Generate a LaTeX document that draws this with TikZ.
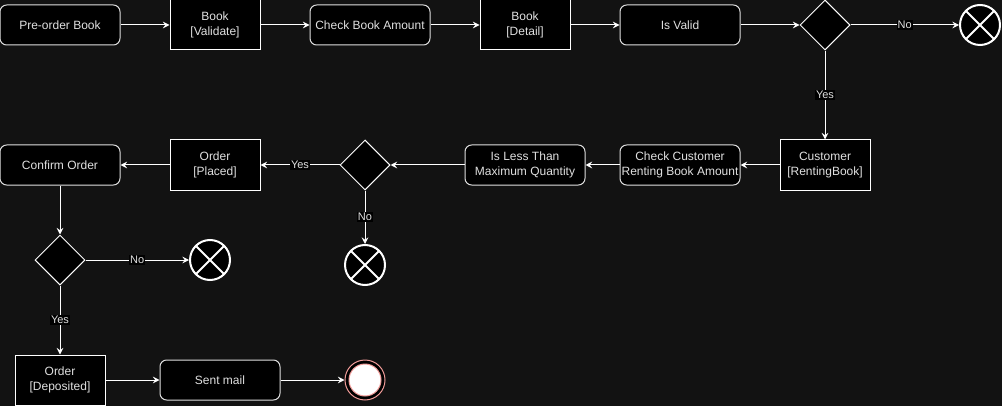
\documentclass[tikz,border=0pt]{standalone}
\usepackage{fontspec}
\setmainfont{Liberation Sans}
\usetikzlibrary{shapes.geometric,arrows.meta}
\definecolor{bg}{HTML}{121212}
\definecolor{txt}{HTML}{E0E0E0}
\definecolor{rbord}{HTML}{E0E0E0}
\definecolor{endred}{HTML}{F19C99}
\begin{document}
\begin{tikzpicture}[x=0.75pt,y=-0.75pt,
  font=\fontsize{9}{11.6}\selectfont,
  action/.style={rectangle, draw=rbord, fill=black, rounded corners=5pt, text=txt,
    minimum width=90pt, minimum height=30pt, inner sep=0pt, align=center, line width=0.75pt},
  objbox/.style={rectangle, draw=white, fill=black, text=txt,
    minimum width=67.5pt, minimum height=37.5pt, inner sep=0pt, align=center, line width=0.75pt},
  decision/.style={diamond, draw=white, fill=black, aspect=1,
    minimum width=37.5pt, minimum height=37.5pt, inner sep=0pt, line width=0.75pt},
  endx/.style={circle, draw=white, fill=black, line width=1.5pt, minimum size=30pt, inner sep=0pt,
    path picture={\draw[white, line width=1.5pt]
      ([shift={(45:1pt)}]path picture bounding box.south west) -- ([shift={(225:1pt)}]path picture bounding box.north east)
      ([shift={(-45:1pt)}]path picture bounding box.north west) -- ([shift={(135:1pt)}]path picture bounding box.south east);}},
  flow/.style={draw=white, line width=0.75pt, -{Stealth[length=5pt,width=5pt,inset=1.8pt]}},
  lbl/.style={fill=black, text=txt, inner sep=0.8pt, font=\fontsize{8.25}{9}\selectfont}
]
\fill[bg] (0,0) rectangle (1002,406);
\useasboundingbox (0,0) rectangle (1002,406);

\node[action] (n1) at (60,25) {Pre-order Book};
\node[objbox] (n2) at (215,25) {Book\\{}[Validate]};
\node[action] (n3) at (370,25) {Check Book Amount};
\node[objbox] (n4) at (525,25) {Book\\{}[Detail]};
\node[action] (n5) at (680,25) {Is Valid};
\node[decision] (d1) at (825,25) {};
\node[endx] (e1) at (980,25) {};

\node[objbox] (c1) at (825,165) {Customer\\{}[RentingBook]};
\node[action] (n6) at (680,165) {Check Customer\\Renting Book Amount};
\node[action] (n7) at (525,165) {Is Less Than\\Maximum Quantity};
\node[decision] (d2) at (365,165) {};
\node[endx] (e2) at (365,265) {};
\node[objbox] (n8) at (215,165) {Order\\{}[Placed]};
\node[action] (n9) at (60,165) {Confirm Order};
\node[decision] (d3) at (60,260) {};
\node[endx] (e3) at (210,260) {};
\node[objbox] (n10) at (60,380) {Order\\{}[Deposited]};
\node[action] (n11) at (220,380) {Sent mail};
\node[circle, draw=endred, fill=black, minimum size=30pt, inner sep=0pt, line width=0.75pt] (f) at (365,380) {};
\node[circle, draw=endred, fill=white, minimum size=24pt, inner sep=0pt, line width=0.75pt] (fi) at (f.center) {};

\draw[flow] (n1) -- (n2);
\draw[flow] (n2) -- (n3);
\draw[flow] (n3) -- (n4);
\draw[flow] (n4) -- (n5);
\draw[flow] (n5) -- (d1);
\draw[flow] (d1) -- node[lbl] {No} (e1);
\draw[flow] (d1) -- node[lbl] {Yes} (c1);
\draw[flow] (c1) -- (n6);
\draw[flow] (n6) -- (n7);
\draw[flow] (n7) -- (d2);
\draw[flow] (d2) -- node[lbl] {Yes} (n8);
\draw[flow] (d2) -- node[lbl] {No} (e2);
\draw[flow] (n8) -- (n9);
\draw[flow] (n9) -- (d3);
\draw[flow] (d3) -- node[lbl] {No} (e3);
\draw[flow] (d3) -- node[lbl] {Yes} (n10);
\draw[flow] (n10) -- (n11);
\draw[flow] (n11) -- (f);
\end{tikzpicture}
\end{document}
